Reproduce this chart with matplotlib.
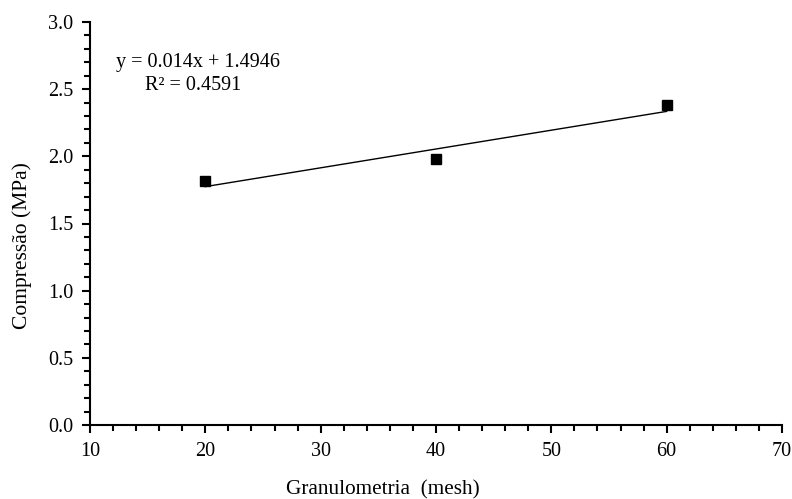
import numpy as np
import matplotlib.pyplot as plt
from matplotlib.ticker import MultipleLocator

granulometria = [20, 40, 60]
compressao = [1.82, 1.98, 2.38]
slope = 0.014
intercept = 1.4946
r2 = 0.4591

plt.rcParams['font.family'] = ['Liberation Serif', 'DejaVu Serif']

W, H = 792, 499
fig = plt.figure(figsize=(W / 100, H / 100), dpi=100)
ax = fig.add_axes([90 / W, 1 - 425 / H, 692 / W, 403 / H])

xs = np.array([min(granulometria), max(granulometria)])
ax.plot(xs, slope * xs + intercept, color='black', lw=1)
ax.plot(granulometria, compressao, 's', color='black', ms=7)

ax.set_xlim(10, 70)
ax.set_ylim(0, 3.0)
ax.xaxis.set_major_locator(MultipleLocator(10))
ax.xaxis.set_minor_locator(MultipleLocator(2))
ax.yaxis.set_major_locator(MultipleLocator(0.5))
ax.yaxis.set_minor_locator(MultipleLocator(0.1))
ax.yaxis.set_major_formatter(plt.FormatStrFormatter('%.1f'))

for s in ['top', 'right']:
    ax.spines[s].set_visible(False)
for s in ['left', 'bottom']:
    ax.spines[s].set_linewidth(1.5)
ax.tick_params(which='major', length=6, width=1.5, labelsize=14.5, pad=6)
ax.tick_params(which='minor', length=4, width=1.5)

fs = 14.5
fig.text(383 / W, 1 - 490 / H, 'Granulometria  (mesh)', fontsize=15.3, ha='center', va='center')
fig.text(22 / W, 1 - 246 / H, 'Compressão (MPa)', fontsize=15.5, ha='center', va='center',
         rotation=90)

fig.text(198 / W, 1 - 62 / H, f'y = {slope}x + {intercept}', fontsize=fs,
         ha='center', va='center')
fig.text(193 / W, 1 - 85 / H, f'R² = {r2}', fontsize=fs, ha='center', va='center')

fig.savefig('out.png', dpi=100)
